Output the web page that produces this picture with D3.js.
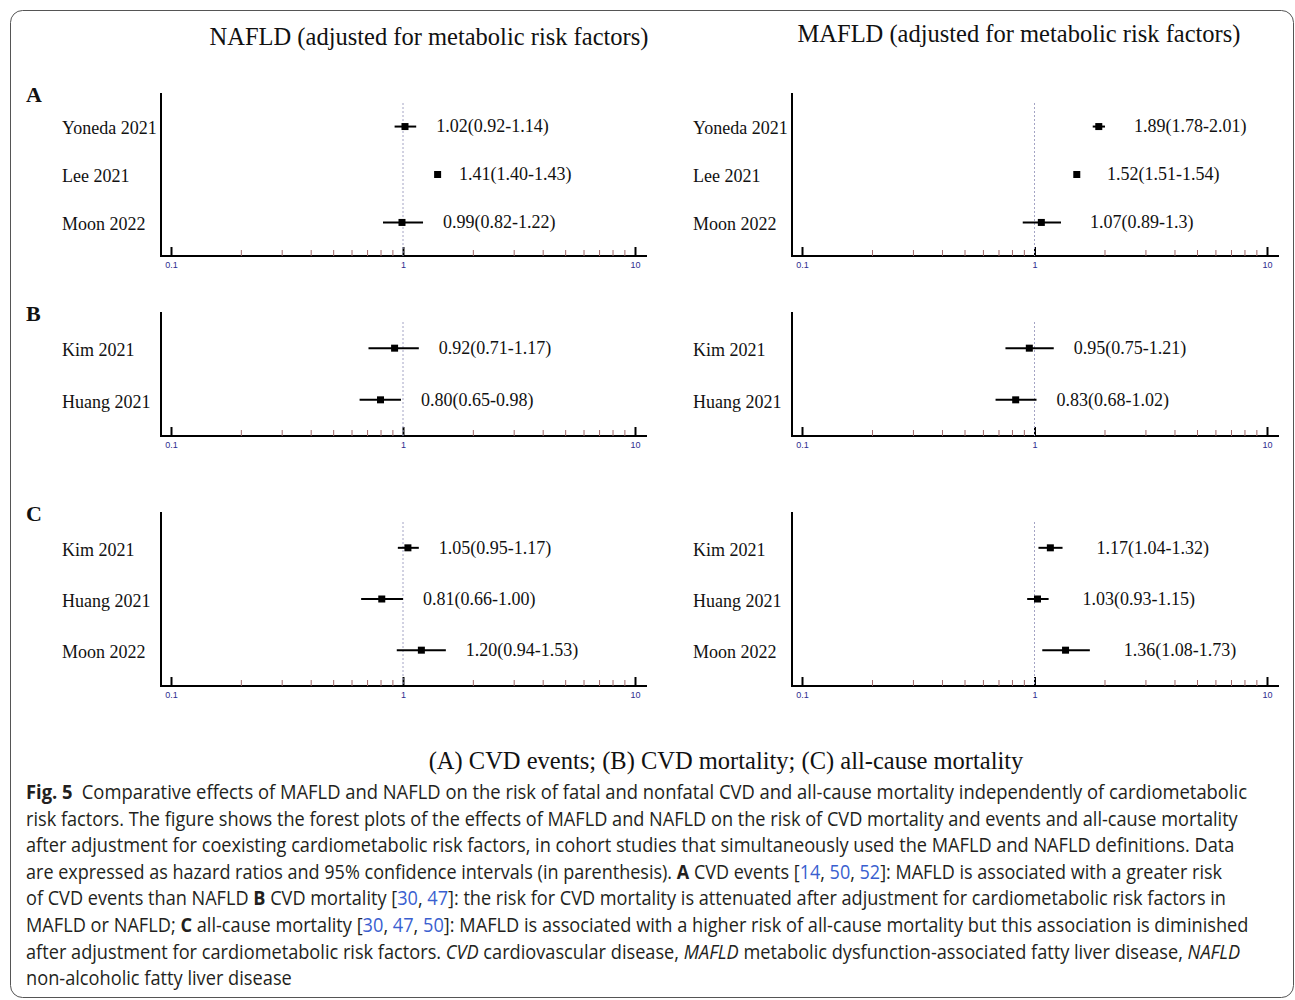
<!DOCTYPE html>
<html>
<head>
<meta charset="utf-8">
<script src="https://cdn.jsdelivr.net/npm/d3@7"></script>
<style>
  body { margin: 0; background: #fff; }
  svg text { white-space: pre; }
</style>
</head>
<body>
<svg id="chart" width="1295" height="1000"></svg>
<script>
// ---- data ----
const studiesA = ["Yoneda 2021", "Lee 2021", "Moon 2022"];
const studiesB = ["Kim 2021", "Huang 2021"];
const studiesC = ["Kim 2021", "Huang 2021", "Moon 2022"];

// [hr, lower, upper]
const nafldA = [[1.02, 0.92, 1.14], [1.41, 1.40, 1.43], [0.99, 0.82, 1.22]];
const mafldA = [[1.89, 1.78, 2.01], [1.52, 1.51, 1.54], [1.07, 0.89, 1.30]];
const nafldB = [[0.92, 0.71, 1.17], [0.80, 0.65, 0.98]];
const mafldB = [[0.95, 0.75, 1.21], [0.83, 0.68, 1.02]];
const nafldC = [[1.05, 0.95, 1.17], [0.81, 0.66, 1.00], [1.20, 0.94, 1.53]];
const mafldC = [[1.17, 1.04, 1.32], [1.03, 0.93, 1.15], [1.36, 1.08, 1.73]];

const nafldALabels = ["1.02(0.92-1.14)", "1.41(1.40-1.43)", "0.99(0.82-1.22)"];
const mafldALabels = ["1.89(1.78-2.01)", "1.52(1.51-1.54)", "1.07(0.89-1.3)"];
const nafldBLabels = ["0.92(0.71-1.17)", "0.80(0.65-0.98)"];
const mafldBLabels = ["0.95(0.75-1.21)", "0.83(0.68-1.02)"];
const nafldCLabels = ["1.05(0.95-1.17)", "0.81(0.66-1.00)", "1.20(0.94-1.53)"];
const mafldCLabels = ["1.17(1.04-1.32)", "1.03(0.93-1.15)", "1.36(1.08-1.73)"];

const majorTicks = [0.1, 1, 10];
const minorTicks = [0.2, 0.3, 0.4, 0.5, 0.6, 0.7, 0.8, 0.9, 2, 3, 4, 5, 6, 7, 8, 9];
const tickLabels = ["0.1", "1", "10"];

const columnTitles = ["NAFLD (adjusted for metabolic risk factors)", "MAFLD (adjusted for metabolic risk factors)"];
const panelLetters = ["A", "B", "C"];
const subtitle = "(A) CVD events; (B) CVD mortality; (C) all-cause mortality";

const serif = "'Liberation Serif', 'Times New Roman', serif";

const svg = d3.select("#chart");

// outer frame
svg.append("rect")
    .attr("x", 10.5).attr("y", 10.5)
    .attr("width", 1283).attr("height", 987)
    .attr("rx", 12)
    .attr("fill", "none")
    .attr("stroke", "#555")
    .attr("stroke-width", 1);

// layout of the two columns and three rows
const cols = [
    {axisX: 161, x0: 171, x1: 635, labelX: 62},
    {axisX: 792, x0: 802, x1: 1267, labelX: 693}
];
const rows = [
    {top: 93, axis: 256},
    {top: 312, axis: 436},
    {top: 512, axis: 686}
];

function drawPanel(col, row, studies, est, labels, gap) {
    const g = svg.append("g");

    const x = d3.scaleLog().domain([0.1, 10]).range([col.x0, col.x1]);
    const y = d3.scalePoint().domain(d3.range(studies.length)).range([row.top, row.axis]).padding(0.7);

    // y axis line
    g.append("line")
        .attr("x1", col.axisX).attr("x2", col.axisX)
        .attr("y1", row.top).attr("y2", row.axis + 1)
        .attr("stroke", "#000").attr("stroke-width", 2);

    // x axis line
    g.append("line")
        .attr("x1", col.axisX - 1).attr("x2", col.x1 + 12)
        .attr("y1", row.axis).attr("y2", row.axis)
        .attr("stroke", "#000").attr("stroke-width", 2);

    // minor ticks
    g.append("g")
        .attr("transform", "translate(0," + row.axis + ")")
        .call(d3.axisBottom(x).tickValues(minorTicks).tickSize(-6).tickFormat(""))
        .call(s => s.select(".domain").remove())
        .selectAll("line")
        .attr("stroke", "#a06a6a")
        .attr("stroke-width", 1);

    // major ticks + labels
    const major = g.append("g")
        .attr("transform", "translate(0," + row.axis + ")")
        .call(d3.axisBottom(x).tickValues(majorTicks).tickSize(-9).tickPadding(6)
            .tickFormat((d, i) => tickLabels[i]))
        .call(s => s.select(".domain").remove());
    major.selectAll("line").attr("stroke", "#000").attr("stroke-width", 2);
    major.selectAll("text")
        .attr("fill", "#2d2d8f")
        .attr("font-family", "'Liberation Sans', Arial, sans-serif")
        .attr("font-size", 9);

    // reference line at 1
    g.append("line")
        .attr("x1", x(1)).attr("x2", x(1))
        .attr("y1", row.top + 10).attr("y2", row.axis)
        .attr("stroke", "#a4a4c4")
        .attr("stroke-width", 1)
        .attr("stroke-dasharray", "2,2");

    const rowsData = est.map((d, i) => ({i: i, name: studies[i], hr: d[0], lo: d[1], hi: d[2], label: labels[i]}));

    // CI whiskers
    g.selectAll(".ci").data(rowsData).join("line")
        .attr("class", "ci")
        .attr("x1", d => x(d.lo)).attr("x2", d => x(d.hi))
        .attr("y1", d => y(d.i)).attr("y2", d => y(d.i))
        .attr("stroke", "#000").attr("stroke-width", 2);

    // point estimates
    g.selectAll(".pt").data(rowsData).join("rect")
        .attr("class", "pt")
        .attr("x", d => x(d.hr) - 3.5).attr("y", d => y(d.i) - 3.5)
        .attr("width", 7).attr("height", 7)
        .attr("fill", "#000");

    // value labels
    g.selectAll(".val").data(rowsData).join("text")
        .attr("class", "val")
        .attr("x", d => x(d.hi) + gap)
        .attr("y", d => y(d.i))
        .attr("dy", "0.33em")
        .attr("font-family", serif)
        .attr("font-size", 18)
        .attr("fill", "#111")
        .text(d => d.label);

    // study names
    g.selectAll(".study").data(rowsData).join("text")
        .attr("class", "study")
        .attr("x", col.labelX)
        .attr("y", d => y(d.i) + 2)
        .attr("dy", "0.33em")
        .attr("font-family", serif)
        .attr("font-size", 18)
        .attr("fill", "#111")
        .text(d => d.name);
}

drawPanel(cols[0], rows[0], studiesA, nafldA, nafldALabels, 20);
drawPanel(cols[1], rows[0], studiesA, mafldA, mafldALabels, 29);
drawPanel(cols[0], rows[1], studiesB, nafldB, nafldBLabels, 20);
drawPanel(cols[1], rows[1], studiesB, mafldB, mafldBLabels, 20);
drawPanel(cols[0], rows[2], studiesC, nafldC, nafldCLabels, 20);
drawPanel(cols[1], rows[2], studiesC, mafldC, mafldCLabels, 34);

// column titles
svg.append("text")
    .attr("x", 429).attr("y", 45)
    .attr("text-anchor", "middle")
    .attr("font-family", serif).attr("font-size", 24.5).attr("fill", "#111")
    .text(columnTitles[0]);
svg.append("text")
    .attr("x", 1019).attr("y", 42)
    .attr("text-anchor", "middle")
    .attr("font-family", serif).attr("font-size", 24.5).attr("fill", "#111")
    .text(columnTitles[1]);

// panel letters
svg.selectAll(".letter").data(panelLetters).join("text")
    .attr("class", "letter")
    .attr("x", 26)
    .attr("y", (d, i) => rows[i].top + 9)
    .attr("font-family", serif).attr("font-size", 22).attr("font-weight", "bold")
    .attr("fill", "#111")
    .text(d => d);

// subtitle under the plots
svg.append("text")
    .attr("x", 726).attr("y", 769)
    .attr("text-anchor", "middle")
    .attr("font-family", serif).attr("font-size", 24.5).attr("fill", "#111")
    .text(subtitle);

// ---- figure caption ----
const B = "b", I = "i", L = "l", N = "";
const captionLines = [
    [["Fig. 5", B], ["\u2002Comparative effects of MAFLD and NAFLD on the risk of fatal and nonfatal CVD and all-cause mortality independently of cardiometabolic", N]],
    [["risk factors. The figure shows the forest plots of the effects of MAFLD and NAFLD on the risk of CVD mortality and events and all-cause mortality", N]],
    [["after adjustment for coexisting cardiometabolic risk factors, in cohort studies that simultaneously used the MAFLD and NAFLD definitions. Data", N]],
    [["are expressed as hazard ratios and 95% confidence intervals (in parenthesis). ", N], ["A", B], [" CVD events [", N], ["14", L], [", ", N], ["50", L], [", ", N], ["52", L], ["]: MAFLD is associated with a greater risk", N]],
    [["of CVD events than NAFLD ", N], ["B", B], [" CVD mortality [", N], ["30", L], [", ", N], ["47", L], ["]: the risk for CVD mortality is attenuated after adjustment for cardiometabolic risk factors in", N]],
    [["MAFLD or NAFLD; ", N], ["C", B], [" all-cause mortality [", N], ["30", L], [", ", N], ["47", L], [", ", N], ["50", L], ["]: MAFLD is associated with a higher risk of all-cause mortality but this association is diminished", N]],
    [["after adjustment for cardiometabolic risk factors. ", N], ["CVD", I], [" cardiovascular disease, ", N], ["MAFLD", I], [" metabolic dysfunction-associated fatty liver disease, ", N], ["NAFLD", I]],
    [["non-alcoholic fatty liver disease", N]]
];
const captionEnds = [1248, 1239, 1235, 1223, 1227, 1249, 1241, 292];

const cap = svg.append("g")
    .attr("font-family", "'Open Sans', 'Noto Sans', sans-serif")
    .attr("font-size", 19.5)
    .attr("fill", "#231f20");

// each line is drawn at natural width, then squeezed horizontally to the reference line length
captionLines.forEach((segs, i) => {
    const line = cap.append("g");
    const t = line.append("text").attr("x", 0).attr("y", 0);
    segs.forEach(s => {
        const ts = t.append("tspan").text(s[0]);
        if (s[1] === B) ts.attr("font-weight", "bold");
        if (s[1] === I) ts.attr("font-style", "italic");
        if (s[1] === L) ts.attr("fill", "#3a5fd0");
    });
    const w = t.node().getComputedTextLength();
    const k = (captionEnds[i] - 26) / w;
    line.attr("transform", "translate(26," + (799 + i * 26.6) + ") scale(" + k + ",1)");
});
</script>
</body>
</html>
